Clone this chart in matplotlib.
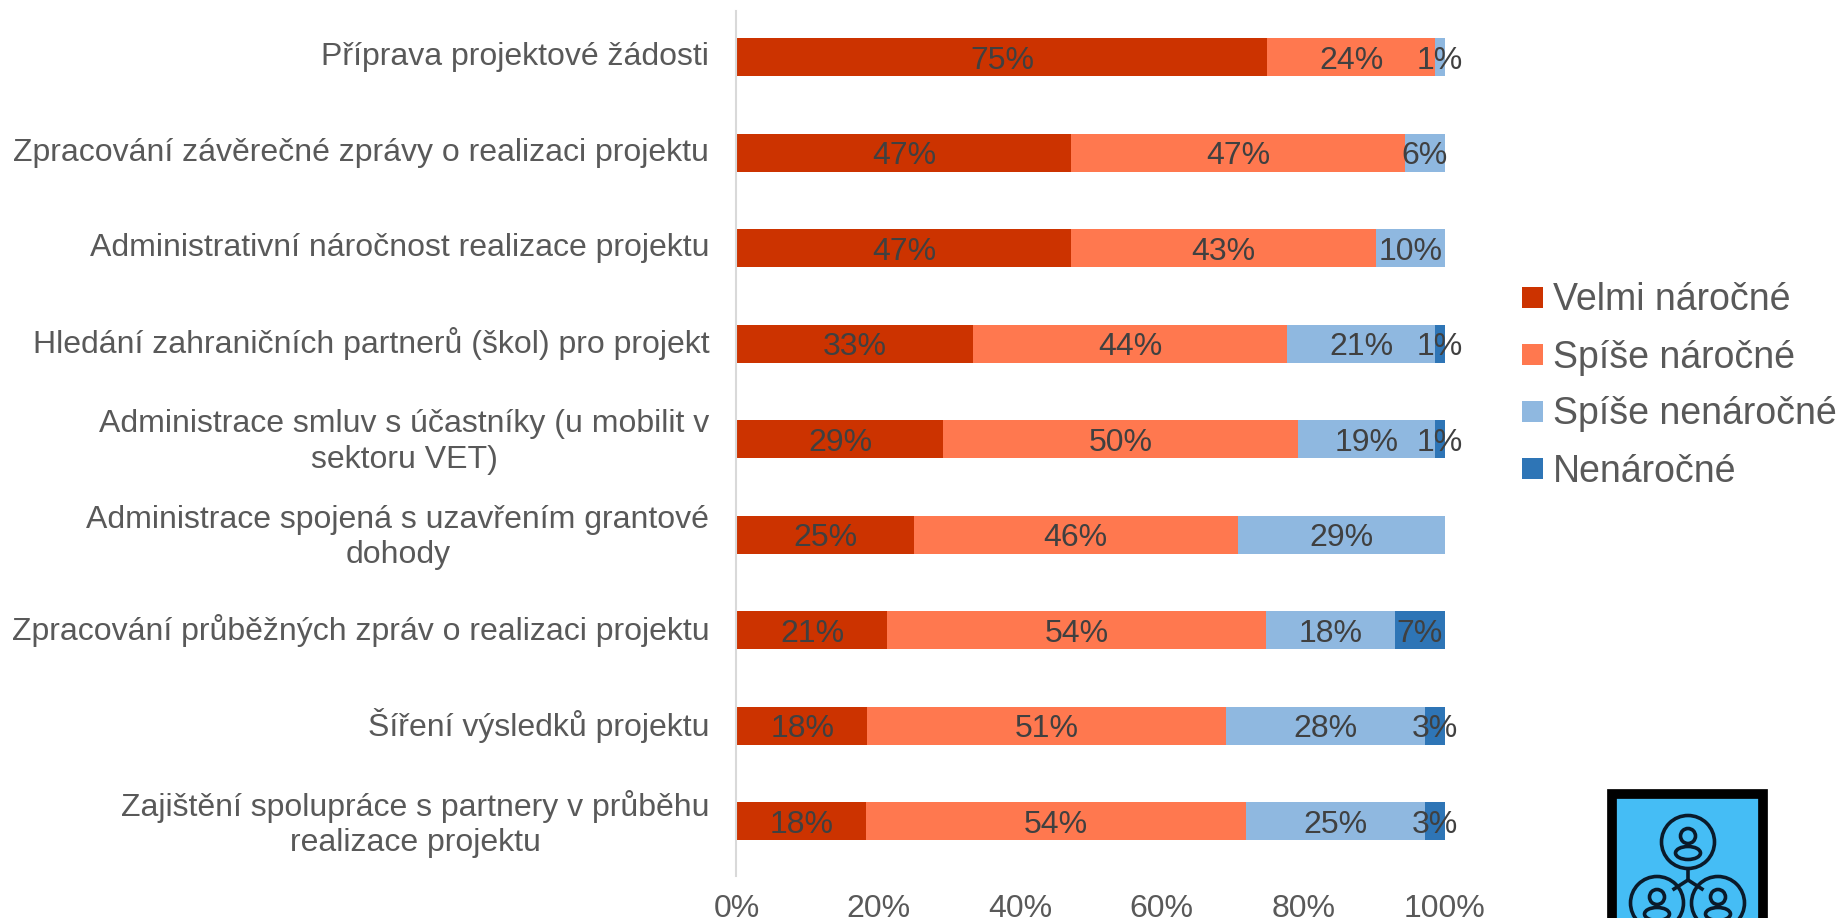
#!/usr/bin/env python3
# -*- coding: utf-8 -*-
import matplotlib
matplotlib.use("Agg")
import numpy as np
import matplotlib.pyplot as plt
from matplotlib.patches import Circle, Ellipse, Rectangle
from matplotlib.transforms import ScaledTranslation

plt.rcParams['font.family'] = ['Liberation Sans', 'DejaVu Sans']

categories = ["Příprava projektové žádosti",
              "Zpracování závěrečné zprávy o realizaci projektu",
              "Administrativní náročnost realizace projektu",
              "Hledání zahraničních partnerů (škol) pro projekt",
              "Administrace smluv s účastníky (u mobilit v\nsektoru VET)",
              "Administrace spojená s uzavřením grantové\ndohody",
              "Zpracování průběžných zpráv o realizaci projektu",
              "Šíření výsledků projektu",
              "Zajištění spolupráce s partnery v průběhu\nrealizace projektu"]

velmi = [74.9, 47.2, 47.2, 33.4, 29.1, 25.0, 21.2, 18.4, 18.2]
spise = [23.7, 47.1, 43.0, 44.3, 50.1, 45.7, 53.5, 50.6, 53.7]
spise_ne = [1.4, 5.7, 9.8, 20.9, 19.4, 29.3, 18.2, 28.2, 25.3]
nenarocne = [0, 0, 0, 1.4, 1.4, 0, 7.1, 2.8, 2.8]

series_names = ["Velmi náročné", "Spíše náročné", "Spíše nenáročné", "Nenáročné"]
colors = ["#CC3300", "#FF784F", "#8FB8E0", "#2E75B6"]
x_ticks = [0, 20, 40, 60, 80, 100]

W, H = 1841, 918
fig = plt.figure(figsize=(W / 100, H / 100), dpi=100)
ax = fig.add_axes([737 / W, 1 - 869 / H, (1445 - 737) / W, (869 - 9.5) / H])

y = np.arange(len(categories))
left = np.zeros(len(categories))
for name, vals, col in zip(series_names, [velmi, spise, spise_ne, nenarocne], colors):
    vals = np.array(vals)
    bars = ax.barh(y, vals, 0.4, left=left, color=col, label=name)
    for yy, v, l in zip(y, vals, left):
        if v > 0:
            ax.text(l + v / 2, yy + 0.035, "%d%%" % round(v), ha='center', va='center',
                    fontsize=23, color='#404040')
    left = left + vals

ax.set_xlim(0, 100)
ax.set_ylim(len(categories) - 0.5, -0.5)
for s in ['top', 'right', 'bottom', 'left']:
    ax.spines[s].set_visible(False)
# the axis line runs a little past the bars at both ends
ax.axvline(-0.14, ymin=-0.008, ymax=0.998, color='#D9D9D9', linewidth=1.5, clip_on=False)

ax.set_xticks(x_ticks)
ax.set_xticklabels(["%d%%" % t for t in x_ticks])
ax.set_yticks(y)
ax.set_yticklabels(categories)
ax.tick_params(axis='both', length=0, labelsize=23, labelcolor='#595959')
ax.tick_params(axis='y', pad=20)
ax.tick_params(axis='x', pad=18)
# category labels sit slightly above the middle of their bars
shift = ScaledTranslation(0, 2.5 / 72, fig.dpi_scale_trans)
for lab in ax.get_yticklabels():
    lab.set_multialignment('center')
    lab.set_linespacing(1.23)
    lab.set_transform(lab.get_transform() + shift)

fig.legend(loc='center left', bbox_to_anchor=(1511 / W, 1 - 386 / H), frameon=False,
           fontsize=27, labelcolor='#595959', handlelength=0.54, handleheight=0.5,
           handletextpad=0.27, labelspacing=0.56, borderaxespad=0, borderpad=0.3)

# icon in the bottom right corner, drawn in pixel coordinates
icon = fig.add_axes([0, 0, 1, 1])
icon.set_xlim(0, W)
icon.set_ylim(H, 0)
icon.axis('off')
icon.patch.set_alpha(0)
icon.add_patch(Rectangle((1612, 794), 151, 140, facecolor='#45BDF5', edgecolor='black', linewidth=7))
for cx, cy in [(1688, 842), (1657, 903), (1718, 903)]:
    icon.add_patch(Circle((cx, cy), 26.5, fill=False, edgecolor='#0A1A2A', linewidth=2.6))
    icon.add_patch(Circle((cx, cy - 6), 7.5, fill=False, edgecolor='#0A1A2A', linewidth=2.6))
    icon.add_patch(Ellipse((cx, cy + 11), 25, 13, fill=False, edgecolor='#0A1A2A', linewidth=2.6))
icon.plot([1688, 1688], [869, 880], color='#0A1A2A', linewidth=2.6)
icon.plot([1674, 1688, 1702], [889, 880, 889], color='#0A1A2A', linewidth=2.6)

plt.savefig("out.png", dpi=100)
